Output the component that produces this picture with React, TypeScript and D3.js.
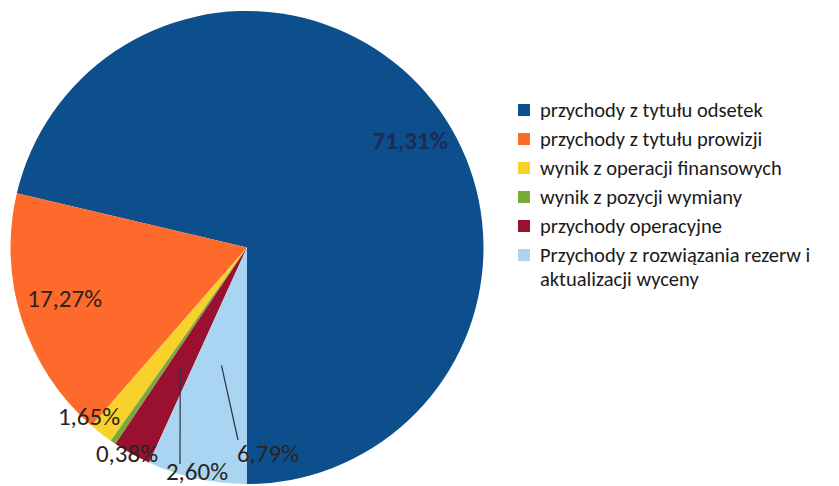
import React from "react";
import * as d3 from "d3";

// udział poszczególnych pozycji w przychodach (%)
const categories = [
  "przychody z tytułu odsetek",
  "przychody z tytułu prowizji",
  "wynik z operacji finansowych",
  "wynik z pozycji wymiany",
  "przychody operacyjne",
  "Przychody z rozwiązania rezerw i aktualizacji wyceny",
];
const values = [71.31, 17.27, 1.65, 0.38, 2.6, 6.79];
const labels = ["71,31%", "17,27%", "1,65%", "0,38%", "2,60%", "6,79%"];
const colors = ["#0d4f8d", "#fd6a2b", "#f8d12c", "#79a83c", "#9a1030", "#a9d5f3"];

// legend text split into lines as in the original
const legendLines = [
  ["przychody z tytułu odsetek"],
  ["przychody z tytułu prowizji"],
  ["wynik z operacji finansowych"],
  ["wynik z pozycji wymiany"],
  ["przychody operacyjne"],
  ["Przychody z rozwiązania rezerw i", "aktualizacji wyceny"],
];

const W = 839;
const H = 486;
const cx = 247;
const cy = 247.5;
const R = 236.5;

// big slices: shift from centroid; small ones: offset from pie center (baseline),
// with optional leader line starting at lead*R on the slice's mid angle
const insideShift: Record<number, [number, number]> = {
  0: [13, 20],
  1: [0, 1],
};
const outsideLabels: Record<number, { dx: number; dy: number; lead?: number; end?: [number, number] }> = {
  2: { dx: -158, dy: 177.5 },
  3: { dx: -120, dy: 214.5 },
  4: { dx: -50, dy: 232.5, lead: 0.58, end: [-17, -16] },
  5: { dx: 21, dy: 214.5, lead: 0.51, end: [-30, -22] },
};

export default function App() {
  const pie = d3
    .pie<number>()
    .sort(null)
    .startAngle(Math.PI)
    .endAngle(-Math.PI);
  const arcs = pie(values);
  const arc = d3.arc<d3.PieArcDatum<number>>().innerRadius(0).outerRadius(R);
  const labelArc = d3.arc<d3.PieArcDatum<number>>().innerRadius(R * 0.81).outerRadius(R * 0.81);

  const font = "Carlito, Lato, 'Open Sans', sans-serif";

  return (
    <>
      <style>{"body{margin:0}"}</style>
      <svg width={W} height={H} style={{ display: "block", background: "#fff" }}>
        <g transform={`translate(${cx},${cy})`}>
          {arcs.map((a, i) => (
            <path key={i} d={arc(a) || ""} fill={colors[i]} />
          ))}
          {arcs.map((a, i) => {
            const o = outsideLabels[i];
            if (!o) {
              const [x, y] = labelArc.centroid(a);
              const [sx, sy] = insideShift[i];
              return (
                <text
                  key={"l" + i}
                  x={x + sx}
                  y={y + sy}
                  textAnchor="middle"
                  fontFamily={font}
                  fontSize={25}
                  fontWeight={i === 0 ? 700 : 400}
                  fill={i === 0 ? "#1b2c55" : "#2a2420"}
                >
                  {labels[i]}
                </text>
              );
            }
            let leader = null;
            if (o.lead && o.end) {
              const mid = (a.startAngle + a.endAngle) / 2;
              const r0 = R * o.lead;
              const x0 = r0 * Math.sin(mid);
              const y0 = -r0 * Math.cos(mid);
              leader = (
                <line
                  x1={x0}
                  y1={y0}
                  x2={o.dx + o.end[0]}
                  y2={o.dy + o.end[1]}
                  stroke="#2b3340"
                  strokeWidth={1.2}
                />
              );
            }
            return (
              <g key={"l" + i}>
                {leader}
                <text
                  x={o.dx}
                  y={o.dy}
                  textAnchor="middle"
                  fontFamily={font}
                  fontSize={25}
                  fill="#2a2420"
                >
                  {labels[i]}
                </text>
              </g>
            );
          })}
        </g>
        <g transform="translate(518,104)" fontFamily={font} fontSize={20.5} fill="#1a1a1a">
          {categories.map((c, i) => (
            <g key={c} transform={`translate(0,${i * 29})`}>
              <rect x={0} y={0} width={12} height={12} fill={colors[i]} />
              {legendLines[i].map((ln, j) => (
                <text key={j} x={22} y={6 + j * 24} dominantBaseline="central">
                  {ln}
                </text>
              ))}
            </g>
          ))}
        </g>
      </svg>
    </>
  );
}
